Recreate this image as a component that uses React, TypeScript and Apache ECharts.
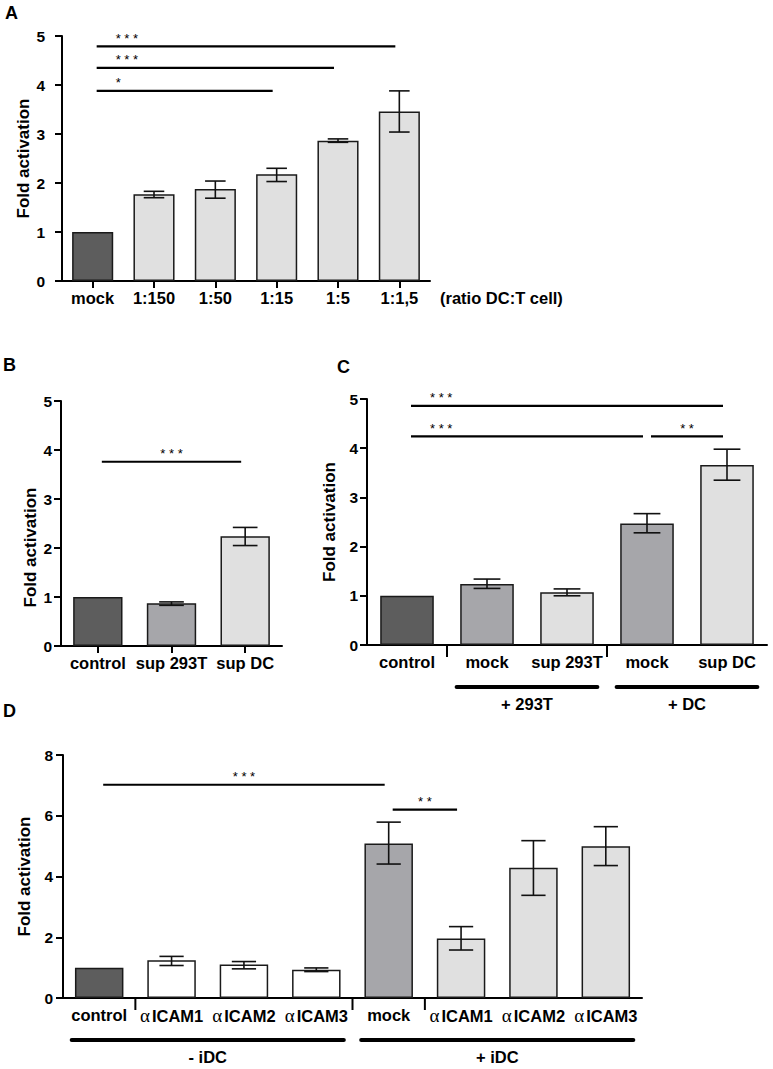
import React, { useEffect, useRef } from 'react';
import * as echarts from 'echarts';

const FONT = 'Liberation Sans, Arial, Helvetica, sans-serif';
const DARK = '#5d5d5d';
const MID = '#a6a6aa';
const LIGHT = '#e0e0e0';
const WHITE = '#ffffff';

// ---------- Panel A ----------
const catsA = ['mock', '1:150', '1:50', '1:15', '1:5', '1:1,5'];
const valsA = [1.0, 1.77, 1.88, 2.18, 2.86, 3.46];
const errLoA = [null, 1.70, 1.69, 2.03, 2.83, 3.04];
const errHiA = [null, 1.83, 2.04, 2.30, 2.90, 3.88];
const colorsA = [DARK, LIGHT, LIGHT, LIGHT, LIGHT, LIGHT];
const sigA = [[0, 5, 4.79], [0, 4, 4.35], [0, 3, 3.88]];
const sigLabelsA = ['***', '***', '*'];
const sigAlignA = ['start', 'start', 'start'];
const ticksA = [0, 1, 2, 3, 4, 5];

// ---------- Panel B ----------
const catsB = ['control', 'sup 293T', 'sup DC'];
const valsB = [1.0, 0.87, 2.24];
const errLoB = [null, 0.83, 2.05];
const errHiB = [null, 0.90, 2.42];
const colorsB = [DARK, MID, LIGHT];
const sigB = [[0, 2, 3.76]];
const sigLabelsB = ['***'];
const sigAlignB = ['center'];

// ---------- Panel C ----------
const catsC = ['control', 'mock', 'sup 293T', 'mock', 'sup DC'];
const valsC = [1.0, 1.24, 1.07, 2.47, 3.66];
const errLoC = [null, 1.15, 1.00, 2.28, 3.35];
const errHiC = [null, 1.34, 1.14, 2.67, 3.98];
const colorsC = [DARK, MID, LIGHT, MID, LIGHT];
const sigC = [[0, 4, 4.86], [0, 3, 4.24], [3, 4, 4.24]];
const sigLabelsC = ['***', '***', '**'];
const sigAlignC = ['start', 'start', 'center'];
const groupsC = [[1, 2], [3, 4]];
const groupLabelsC = ['+ 293T', '+ DC'];
const separatorsC = [1, 3];

// ---------- Panel D ----------
const catsD = ['control', 'αICAM1', 'αICAM2', 'αICAM3', 'mock', 'αICAM1', 'αICAM2', 'αICAM3'];
const valsD = [1.0, 1.24, 1.10, 0.93, 5.09, 1.96, 4.29, 5.0];
const errLoD = [null, 1.07, 0.96, 0.87, 4.41, 1.58, 3.38, 4.36];
const errHiD = [null, 1.37, 1.20, 0.99, 5.79, 2.35, 5.18, 5.64];
const colorsD = [DARK, WHITE, WHITE, WHITE, MID, LIGHT, LIGHT, LIGHT];
const sigD = [[0, 4, 7.02], [4, 5, 6.2]];
const sigLabelsD = ['***', '**'];
const sigAlignD = ['center', 'center'];
const groupsD = [[0, 3], [4, 7]];
const groupLabelsD = ['- iDC', '+ iDC'];
const separatorsD = [1, 4, 5];

const BAR_RATIO = 0.67;

function barSeries(idx: number, vals: number[], colors: string[]) {
  return {
    type: 'bar',
    xAxisIndex: idx,
    yAxisIndex: idx,
    barWidth: BAR_RATIO * 100 + '%',
    silent: true,
    z: 2,
    data: vals.map((v, i) => ({
      value: v,
      itemStyle: { color: colors[i], borderColor: '#1a1a1a', borderWidth: 1.5 },
    })),
  };
}

function errSeries(idx: number, lo: (number | null)[], hi: (number | null)[]) {
  const data: number[][] = [];
  lo.forEach((l, i) => {
    if (l != null && hi[i] != null) data.push([i, l as number, hi[i] as number]);
  });
  return {
    type: 'custom',
    xAxisIndex: idx,
    yAxisIndex: idx,
    silent: true,
    z: 4,
    dimensions: ['x', 'lo', 'hi'],
    encode: { x: 0, y: [1, 2] },
    data,
    renderItem: (params: any, api: any) => {
      const x = api.value(0);
      const pLo = api.coord([x, api.value(1)]);
      const pHi = api.coord([x, api.value(2)]);
      const band = api.size([1, 0])[0];
      const half = (band * BAR_RATIO) / 4;
      const st = { stroke: '#111', lineWidth: 1.6 };
      return {
        type: 'group',
        children: [
          { type: 'line', shape: { x1: pLo[0], y1: pLo[1], x2: pHi[0], y2: pHi[1] }, style: st },
          { type: 'line', shape: { x1: pLo[0] - half, y1: pLo[1], x2: pLo[0] + half, y2: pLo[1] }, style: st },
          { type: 'line', shape: { x1: pHi[0] - half, y1: pHi[1], x2: pHi[0] + half, y2: pHi[1] }, style: st },
        ],
      };
    },
  };
}

function sigSeries(idx: number, sig: number[][], labels: string[], aligns: string[]) {
  return {
    type: 'custom',
    xAxisIndex: idx,
    yAxisIndex: idx,
    silent: true,
    z: 5,
    dimensions: ['from', 'to', 'y'],
    encode: { x: [0, 1], y: 2 },
    data: sig,
    renderItem: (params: any, api: any) => {
      const i = params.dataIndex;
      const p0 = api.coord([api.value(0), api.value(2)]);
      const p1 = api.coord([api.value(1), api.value(2)]);
      const x0 = p0[0] + 4;
      const x1 = p1[0] - 4;
      const y = p0[1];
      const center = aligns[i] === 'center';
      return {
        type: 'group',
        children: [
          { type: 'line', shape: { x1: x0, y1: y, x2: x1, y2: y }, style: { stroke: '#000', lineWidth: 2.2 } },
          {
            type: 'text',
            x: center ? (x0 + x1) / 2 : x0 + 19,
            y: y - 8,
            style: {
              text: labels[i].split('').join(' '),
              fill: '#000',
              fontSize: 13,
              fontFamily: FONT,
              align: center ? 'center' : 'left',
              verticalAlign: 'middle',
            },
          },
        ],
      };
    },
  };
}

function groupSeries(idx: number, groups: number[][], labels: string[]) {
  return {
    type: 'custom',
    xAxisIndex: idx,
    yAxisIndex: idx,
    silent: true,
    clip: false,
    z: 5,
    dimensions: ['from', 'to', 'y'],
    encode: { x: [0, 1], y: 2 },
    data: groups.map((g) => [g[0], g[1], 0]),
    renderItem: (params: any, api: any) => {
      const i = params.dataIndex;
      const p0 = api.coord([api.value(0), 0]);
      const p1 = api.coord([api.value(1), 0]);
      const band = api.size([1, 0])[0];
      const x0 = p0[0] - band * 0.38;
      const x1 = p1[0] + band * 0.38;
      const y = p0[1] + 42;
      return {
        type: 'group',
        children: [
          { type: 'line', shape: { x1: x0, y1: y, x2: x1, y2: y }, style: { stroke: '#000', lineWidth: 4, lineCap: 'round' } },
          {
            type: 'text',
            x: (x0 + x1) / 2,
            y: y + 17,
            style: {
              text: labels[i],
              fill: '#000',
              fontSize: 16.5,
              fontWeight: 'bold',
              fontFamily: FONT,
              align: 'center',
              verticalAlign: 'middle',
            },
          },
        ],
      };
    },
  };
}

function separatorSeries(idx: number, seps: number[]) {
  return {
    type: 'custom',
    xAxisIndex: idx,
    yAxisIndex: idx,
    silent: true,
    clip: false,
    z: 5,
    dimensions: ['x', 'y'],
    encode: { x: 0, y: 1 },
    data: seps.map((s) => [s, 0]),
    renderItem: (params: any, api: any) => {
      const p = api.coord([api.value(0), 0]);
      const band = api.size([1, 0])[0];
      const x = p[0] - band / 2;
      return { type: 'line', shape: { x1: x, y1: p[1], x2: x, y2: p[1] + 12 }, style: { stroke: '#000', lineWidth: 2 } };
    },
  };
}

function yAxis(idx: number, max: number, interval: number, margin: number, namePad?: number[]) {
  return {
    type: 'value',
    gridIndex: idx,
    min: 0,
    max,
    interval,
    name: 'Fold activation',
    nameLocation: 'middle',
    nameGap: 20,
    nameTextStyle: { fontSize: 17, fontWeight: 'bold', color: '#000', fontFamily: FONT, padding: namePad || 0 },
    axisLine: { show: true, lineStyle: { color: '#000', width: 2 } },
    axisTick: { show: true, length: 7, lineStyle: { color: '#000', width: 2 } },
    axisLabel: { margin, fontSize: 15.5, fontWeight: 'bold', color: '#000', fontFamily: FONT },
    splitLine: { show: false },
  };
}

function xAxis(idx: number, cats: string[], centerTicks: boolean, extra?: any) {
  return {
    type: 'category',
    gridIndex: idx,
    data: cats,
    axisLine: { show: true, lineStyle: { color: '#000', width: 2 } },
    axisTick: { show: centerTicks, alignWithLabel: true, length: 7, lineStyle: { color: '#000', width: 2 } },
    axisLabel: { margin: 8, interval: 0, fontSize: 16.5, fontWeight: 'bold', color: '#000', fontFamily: FONT },
    splitLine: { show: false },
    ...(extra || {}),
  };
}

function panelLetter(text: string, left: number, top: number) {
  return {
    type: 'text',
    left,
    top,
    silent: true,
    style: { text, fontSize: 18, fontWeight: 'bold', fill: '#000', fontFamily: FONT },
  };
}

function buildOption() {
  const xD: any = xAxis(3, catsD, false);
  xD.axisLabel = {
    margin: 8,
    interval: 0,
    formatter: (v: string) => (v.startsWith('α') ? `{g|α}{t|${v.slice(1)}}` : `{t|${v}}`),
    rich: {
      g: { fontFamily: 'Liberation Serif, DejaVu Serif, serif', fontSize: 19, fontWeight: 'normal', color: '#000', padding: [0, 2, 0, 0] },
      t: { fontFamily: FONT, fontSize: 16.5, fontWeight: 'bold', color: '#000' },
    },
  };

  return {
    animation: false,
    backgroundColor: '#ffffff',
    textStyle: { fontFamily: FONT },
    grid: [
      { left: 62, top: 36, width: 368, height: 245 },
      { left: 61, top: 401, width: 221, height: 245 },
      { left: 367, top: 399, width: 400, height: 246 },
      { left: 63, top: 755, width: 579, height: 243 },
    ],
    xAxis: [
      xAxis(0, catsA, true, {
        name: '(ratio DC:T cell)',
        nameLocation: 'end',
        nameGap: 10,
        nameTextStyle: { fontSize: 16.5, fontWeight: 'bold', color: '#000', fontFamily: FONT, verticalAlign: 'top', align: 'left', padding: [8, 0, 0, 0] },
      }),
      xAxis(1, catsB, true),
      xAxis(2, catsC, false),
      xD,
    ],
    yAxis: [
      yAxis(0, ticksA[ticksA.length - 1], 1, 17),
      yAxis(1, 5, 1, 9, [0, 48, 0, 0]),
      yAxis(2, 5, 1, 9),
      yAxis(3, 8, 2, 10),
    ],
    graphic: [
      panelLetter('A', 5, 4),
      panelLetter('B', 3, 356),
      panelLetter('C', 337, 358),
      panelLetter('D', 3, 702),
    ],
    series: [
      barSeries(0, valsA, colorsA),
      errSeries(0, errLoA, errHiA),
      sigSeries(0, sigA, sigLabelsA, sigAlignA),
      barSeries(1, valsB, colorsB),
      errSeries(1, errLoB, errHiB),
      sigSeries(1, sigB, sigLabelsB, sigAlignB),
      barSeries(2, valsC, colorsC),
      errSeries(2, errLoC, errHiC),
      sigSeries(2, sigC, sigLabelsC, sigAlignC),
      groupSeries(2, groupsC, groupLabelsC),
      separatorSeries(2, separatorsC),
      barSeries(3, valsD, colorsD),
      errSeries(3, errLoD, errHiD),
      sigSeries(3, sigD, sigLabelsD, sigAlignD),
      groupSeries(3, groupsD, groupLabelsD),
      separatorSeries(3, separatorsD),
    ],
  };
}

export default function App() {
  const ref = useRef<HTMLDivElement>(null);
  useEffect(() => {
    if (!ref.current) return;
    const chart = echarts.init(ref.current, null, { renderer: 'svg' });
    chart.setOption(buildOption() as any);
    return () => chart.dispose();
  }, []);
  return (
    <div
      ref={ref}
      style={{ position: 'absolute', left: 0, top: 0, width: 773, height: 1069, background: '#fff' }}
    />
  );
}
